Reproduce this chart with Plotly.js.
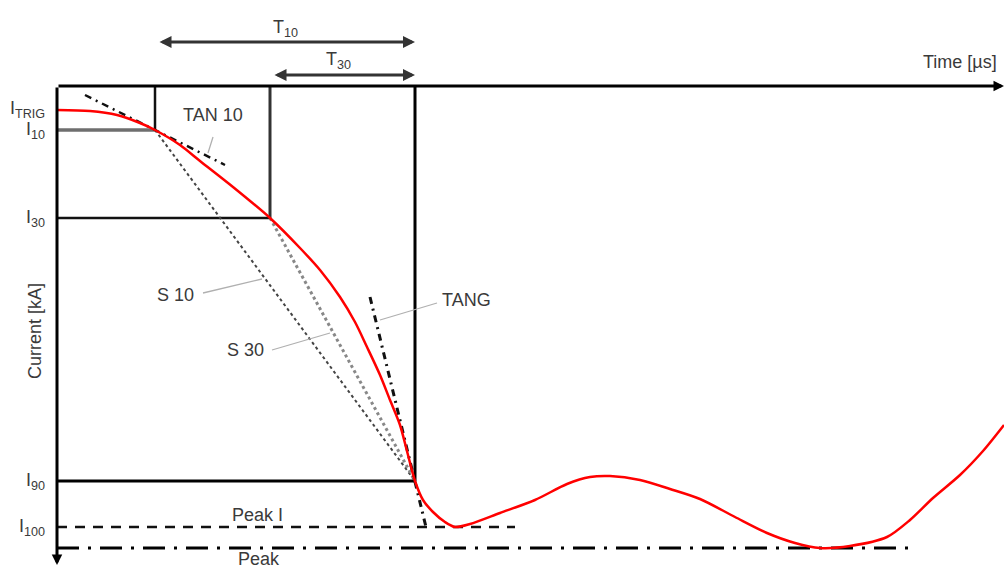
<!DOCTYPE html>
<html>
<head>
<meta charset="utf-8">
<script src="https://cdn.plot.ly/plotly-3.0.1.min.js"></script>
<style>html,body{margin:0;padding:0;background:#fff;}#chart{width:1004px;height:570px;}</style>
</head>
<body>
<div id="chart"></div>
<script>
// Waveform (time in µs, current in kA, negative stroke)
const timeUs = [0, 3.3, 6.0, 8.3, 9.8, 12.3, 14.3, 17.6, 21.3, 24.3, 26.3, 28.3, 29.8, 31.0, 32.3, 33.3, 34.3, 35.1, 35.8, 36.6, 37.6, 38.8, 39.8, 41.3, 44.3, 47.8, 51.0, 53.3, 55.3, 58.3, 61.3, 64.3, 67.8, 71.0, 73.8, 76.3, 79.3, 83.0, 85.3, 87.6, 90.3, 92.6, 94.7];
const currentKA = [-4.8, -5.0, -5.8, -7.4, -8.8, -11.8, -15.0, -20.2, -26.4, -32.4, -36.8, -42.2, -47.2, -52.2, -57.8, -62.8, -67.8, -73.8, -79.0, -82.8, -85.2, -87.2, -88.2, -87.6, -85.4, -82.8, -79.6, -78.2, -78.0, -78.8, -80.6, -82.6, -86.2, -89.4, -91.4, -92.4, -92.0, -90.2, -86.8, -82.4, -77.8, -73.0, -67.8];

// Characteristic levels (kA) and times (µs)
const levelNames = ["TRIG", "10", "30", "90", "100"];
const levelValues = [-4.6, -8.8, -26.4, -79.0, -88.2];
const peakLevel = -92.4;
const T10 = 9.8, T30 = 21.3, T90 = 35.8;
const peakIEnd = 45.8, peakEnd = 85.3, axisEnd = 94.7, axisBottom = -95.8;
// Tangent segments [t0, i0, t1, i1]
const tan10 = [2.8, -1.8, 16.8, -15.8];
const tang = [31.3, -42.2, 36.9, -88.2];

const I10 = levelValues[1], I30 = levelValues[2], I90 = levelValues[3], I100 = levelValues[4];

const font = {family: "Liberation Sans, Arial, sans-serif", size: 18, color: "#3a3a3a"};

function line(x0, y0, x1, y1, color, width, dash) {
  return {type: "line", xref: "x", yref: "y", x0, y0, x1, y1, layer: "below",
          line: {color, width, dash: dash || "solid"}};
}

const shapes = [
  // construction lines
  line(0, I10, T10, I10, "#6e6e6e", 3.5),
  line(T10, 0, T10, I10, "#111", 2.5),
  line(0, I30, T30, I30, "#111", 2.5),
  line(T30, 0, T30, I30, "#333", 3),
  line(0, I90, T90, I90, "#000", 3),
  line(T90, 0, T90, I90, "#000", 3),
  line(0, I100, peakIEnd, I100, "#111", 2.5, "10px,8px"),
  line(0, peakLevel, peakEnd, peakLevel, "#000", 3, "22px,9px,3px,9px"),
  // slopes
  line(T10, I10, T90, I90, "#444", 2, "dot"),
  line(T30, I30, T90, I90, "#888", 3, "dot"),
  line(tan10[0], tan10[1], tan10[2], tan10[3], "#111", 2.5, "7px,5px,2px,5px"),
  line(tang[0], tang[1], tang[2], tang[3], "#111", 3, "7px,5px,2px,5px"),
  // leader lines
  line(14.6, -41.4, 20.5, -38.6, "#b0b0b0", 1.3),
  line(21.5, -52.8, 27.3, -49.4, "#b0b0b0", 1.3),
  line(38.0, -43.4, 32.3, -46.8, "#b0b0b0", 1.3),
  line(15.6, -10.2, 15.1, -13.4, "#b0b0b0", 1.3)
];

function text(t, x, y, extra) {
  return Object.assign({xref: "x", yref: "y", x, y, text: t, showarrow: false, font}, extra || {});
}
function arrow(x, y, ax, ay, extra) {
  return Object.assign({xref: "x", yref: "y", axref: "x", ayref: "y", x, y, ax, ay, text: "",
    showarrow: true, arrowhead: 2, arrowsize: 1, arrowwidth: 3, arrowcolor: "#000",
    standoff: 0, startstandoff: 0}, extra || {});
}

const annotations = [
  // axes
  arrow(0, axisBottom, 0, 0, {arrowsize: 0.7}),
  arrow(axisEnd, 0, 0, 0, {arrowsize: 0.7}),
  // time intervals
  arrow(T90, 8.8, T10 + 0.3, 8.8, {arrowside: "end+start", arrowcolor: "#333", arrowsize: 0.8}),
  arrow(T90, 2.2, T30 + 0.3, 2.2, {arrowside: "end+start", arrowcolor: "#333", arrowsize: 0.8}),
  text("T<sub>10</sub>", 22.8, 11.6),
  text("T<sub>30</sub>", 28.1, 5.2),
  text("Time [µs]", 86.4, 4.8, {xanchor: "left"}),
  text("Current [kA]", -2.2, -49.0, {textangle: -90}),
  text("TAN 10", 15.6, -5.8),
  text("S 10", 11.8, -41.8),
  text("S 30", 18.8, -52.8),
  text("TANG", 40.9, -42.8),
  text("Peak I", 20.0, -85.8),
  text("Peak", 20.2, -94.6)
];
levelNames.forEach((n, i) => {
  annotations.push(text("I<sub>" + n + "</sub>", -1.0, levelValues[i], {xanchor: "right"}));
});

const traces = [{
  x: timeUs, y: currentKA, type: "scatter", mode: "lines",
  line: {color: "#ff0000", width: 2.5, shape: "spline", smoothing: 0.8},
  hoverinfo: "skip", showlegend: false
}];

const layout = {
  width: 1004, height: 570,
  margin: {l: 0, r: 0, t: 0, b: 0},
  paper_bgcolor: "#fff", plot_bgcolor: "#fff",
  xaxis: {range: [-5.7, 94.7], visible: false, fixedrange: true},
  yaxis: {range: [-96.8, 17.2], visible: false, fixedrange: true},
  shapes, annotations, showlegend: false
};

Plotly.newPlot("chart", traces, layout, {staticPlot: true});
</script>
</body>
</html>
